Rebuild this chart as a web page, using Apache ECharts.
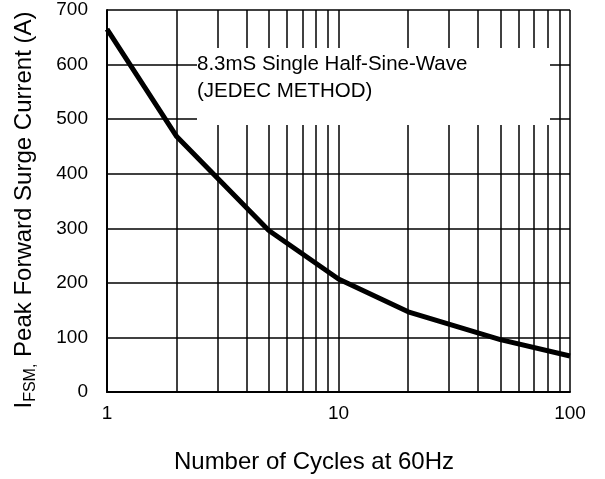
<!DOCTYPE html>
<html>
<head>
<meta charset="utf-8">
<script src="https://cdn.jsdelivr.net/npm/echarts@6/dist/echarts.min.js"></script>
<style>html,body{margin:0;padding:0;background:#fff;}#c{width:605px;height:479px;}</style>
</head>
<body>
<div id="c"></div>
<script>
var cycles = [1, 2, 5, 10, 20, 50, 100];
var surgeCurrent = [665, 468, 296, 207, 147, 96, 66];
var minorGridX = [2, 3, 4, 5, 6, 7, 8, 9, 20, 30, 40, 50, 60, 70, 80, 90];
var yTicks = [0, 100, 200, 300, 400, 500, 600, 700];
var noteLines = ['8.3mS Single Half-Sine-Wave', '(JEDEC METHOD)'];
var xTitle = 'Number of Cycles at 60Hz';

var FONT = '"Liberation Sans", Arial, sans-serif';
var chart = echarts.init(document.getElementById('c'), null, {renderer: 'canvas'});
chart.setOption({
  animation: false,
  backgroundColor: '#fff',
  grid: {left: 107, right: 35, top: 10, bottom: 87},
  xAxis: {
    type: 'log', logBase: 10, min: 1, max: 100,
    axisLine: {show: true, lineStyle: {color: '#000', width: 2}},
    axisTick: {show: false},
    axisLabel: {fontFamily: FONT, fontSize: 19, color: '#000', margin: 12},
    splitLine: {show: true, lineStyle: {color: '#000', width: 1.5}}
  },
  yAxis: {
    type: 'value', min: yTicks[0], max: yTicks[yTicks.length - 1], interval: 100,
    axisLine: {show: true, lineStyle: {color: '#000', width: 2}},
    axisTick: {show: false},
    axisLabel: {fontFamily: FONT, fontSize: 19, color: '#000', margin: 19},
    splitLine: {show: true, lineStyle: {color: '#000', width: 1.5}}
  },
  graphic: [
    {
      type: 'rect', z: 100, silent: true,
      shape: {x: 197, y: 48, width: 353, height: 77},
      style: {fill: '#fff'}
    },
    {
      type: 'text', x: 197, y: 50.5, z: 101, silent: true,
      style: {text: noteLines.join('\n'), font: '20.5px ' + FONT, fill: '#000', lineHeight: 27, verticalAlign: 'top'}
    },
    {
      type: 'text', x: 314, y: 462, z: 101, silent: true,
      style: {text: xTitle, font: '24px ' + FONT, fill: '#000', align: 'center', verticalAlign: 'middle'}
    },
    {
      type: 'text', x: 24, y: 210, rotation: Math.PI / 2, z: 101, silent: true,
      style: {
        text: '{a|I}{s|FSM,}{a| Peak Forward Surge Current (A)}',
        align: 'center', verticalAlign: 'middle',
        rich: {
          a: {fontFamily: FONT, fontSize: 24, fill: '#000', lineHeight: 30},
          s: {fontFamily: FONT, fontSize: 16, fill: '#000', lineHeight: 20, verticalAlign: 'bottom'}
        }
      }
    }
  ],
  series: [{
    type: 'line',
    data: cycles.map(function (c, i) { return [c, surgeCurrent[i]]; }),
    symbol: 'none',
    lineStyle: {color: '#000', width: 5},
    z: 5,
    markLine: {
      silent: true, symbol: 'none', label: {show: false},
      lineStyle: {color: '#000', width: 1.5, type: 'solid'},
      data: minorGridX.map(function (v) { return {xAxis: v}; })
    }
  }]
});
</script>
</body>
</html>
